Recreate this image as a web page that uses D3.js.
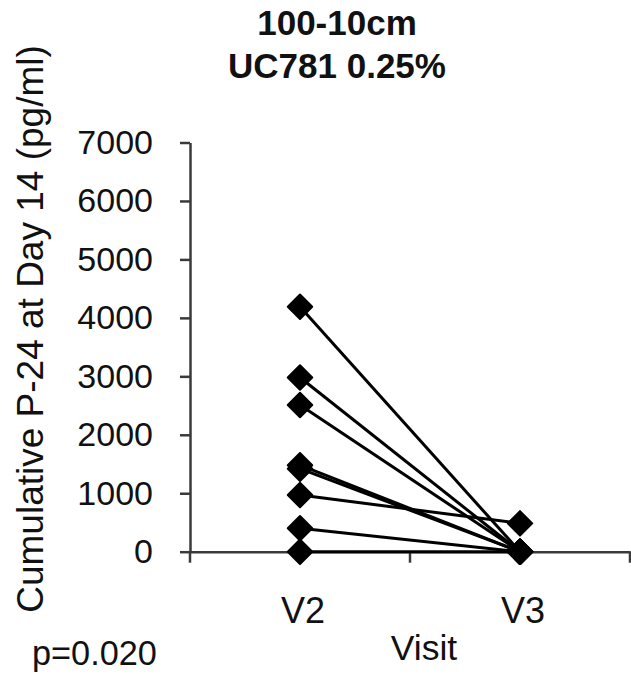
<!DOCTYPE html>
<html>
<head>
<meta charset="utf-8">
<script src="https://cdn.jsdelivr.net/npm/d3@7"></script>
<style>
  html, body { margin: 0; padding: 0; background: #fff; }
  svg { display: block; font-family: "Liberation Sans", Arial, sans-serif; }
</style>
</head>
<body>
<svg id="chart" width="631" height="674"></svg>
<script>
// Visits on the x axis
const visits = ["V2", "V3"];
// Cumulative P-24 at day 14 (pg/ml), one pair per subject
const valuesV2 = [4190, 2980, 2510, 1480, 1420, 970, 400, 0];
const valuesV3 = [0, 0, 0, 0, 0, 485, 0, 0];
// y-axis tick labels
const yTicks = [0, 1000, 2000, 3000, 4000, 5000, 6000, 7000];
const titleLines = ["100-10cm", "UC781 0.25%"];
const yLabel = "Cumulative P-24 at Day 14 (pg/ml)";
const xLabel = "Visit";
const pLabel = "p=0.020";

const subjects = valuesV2.map((v, i) => ({ V2: v, V3: valuesV3[i] }));

const svg = d3.select("#chart");
const axisColor = "#3a3a3a";
const font = "Liberation Sans, Arial, sans-serif";

const x = d3.scaleBand().domain(visits).range([190, 630]).paddingInner(0).paddingOuter(0);
const y = d3.scaleLinear().domain([0, 7000]).range([551.7, 142.5]);
const cx = v => x(v) + x.bandwidth() / 2;

// Title
svg.append("g").selectAll("text").data(titleLines).join("text")
  .attr("x", 337).attr("y", (d, i) => 35 + i * 43)
  .attr("text-anchor", "middle")
  .attr("font-weight", "bold").attr("font-size", 35)
  .attr("fill", "#111")
  .text(d => d);

// Y axis
const yAxis = svg.append("g").attr("transform", "translate(190,0)")
  .call(d3.axisLeft(y).tickValues(yTicks).tickFormat(d3.format("d"))
    .tickSize(10).tickPadding(27).tickSizeOuter(0));
yAxis.select(".domain").attr("stroke", axisColor).attr("stroke-width", 2.5);
yAxis.selectAll(".tick line").attr("stroke", axisColor).attr("stroke-width", 2.5);
yAxis.selectAll(".tick text").attr("font-size", 34).attr("fill", "#111")
  .attr("font-family", font);

// X axis: line, tick marks between categories, category labels
const xAxis = svg.append("g").attr("transform", `translate(0,${y(0)})`)
  .call(d3.axisBottom(x).tickSize(0).tickPadding(46).tickSizeOuter(0));
xAxis.select(".domain").attr("stroke", axisColor).attr("stroke-width", 2.5);
xAxis.selectAll(".tick text").attr("font-size", 36).attr("fill", "#111")
  .attr("font-family", font).attr("dx", 3);
const edges = visits.map(v => x(v)).concat([x.range()[1]]);
xAxis.selectAll("line.edge").data(edges).join("line")
  .attr("class", "edge")
  .attr("x1", d => d).attr("x2", d => d)
  .attr("y1", 0).attr("y2", 11)
  .attr("stroke", axisColor).attr("stroke-width", 2.5);

// Axis titles
svg.append("text")
  .attr("transform", `translate(43,${329}) rotate(-90)`)
  .attr("text-anchor", "middle").attr("font-size", 37).attr("fill", "#111")
  .text(yLabel);
svg.append("text")
  .attr("x", 424).attr("y", 660)
  .attr("text-anchor", "middle").attr("font-size", 35.5).attr("fill", "#111")
  .text(xLabel);
svg.append("text")
  .attr("x", 32).attr("y", 665)
  .attr("font-size", 34.3).attr("fill", "#111")
  .text(pLabel);

// Subject lines V2 -> V3
svg.append("g").selectAll("line").data(subjects).join("line")
  .attr("x1", cx("V2")).attr("y1", d => y(d.V2))
  .attr("x2", cx("V3")).attr("y2", d => y(d.V3))
  .attr("stroke", "#000").attr("stroke-width", 3);

// Diamond markers
const diamond = d3.symbol(d3.symbolSquare, 300);
const points = subjects.flatMap(d => visits.map(v => ({ v, val: d[v] })));
svg.append("g").selectAll("path").data(points).join("path")
  .attr("d", diamond)
  .attr("transform", d => `translate(${cx(d.v)},${y(d.val)}) rotate(45)`)
  .attr("fill", "#000").attr("stroke", "#000").attr("stroke-width", 2)
  .attr("stroke-linejoin", "round");
</script>
</body>
</html>
